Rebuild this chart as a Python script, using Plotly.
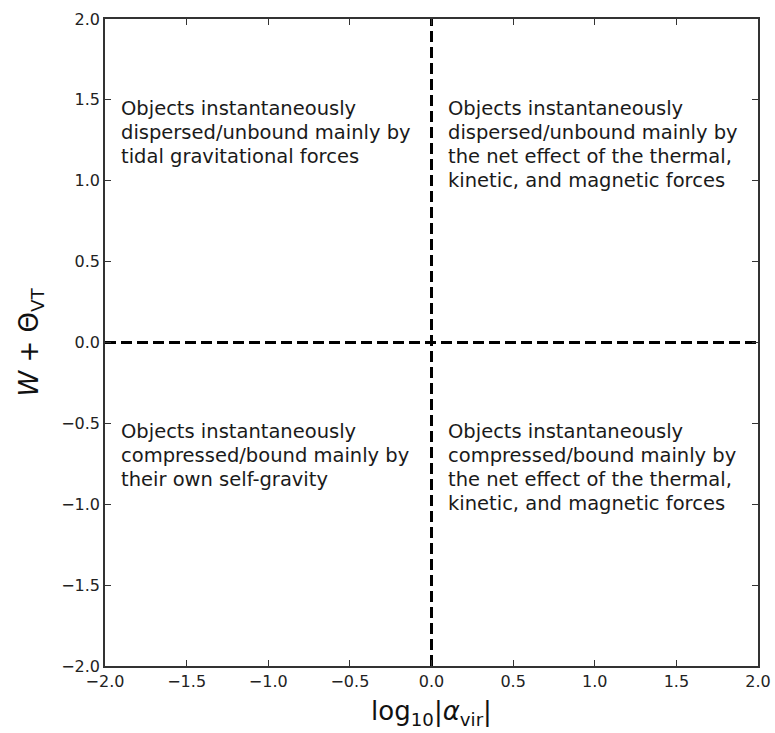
import plotly.graph_objects as go

x_range = [-2.0, 2.0]
y_range = [-2.0, 2.0]
tick_vals = [-2.0, -1.5, -1.0, -0.5, 0.0, 0.5, 1.0, 1.5, 2.0]
tick_text = ["\u22122.0", "\u22121.5", "\u22121.0", "\u22120.5", "0.0", "0.5", "1.0", "1.5", "2.0"]

vline_x = [0.0, 0.0]
vline_y = [-2.0, 2.0]
hline_x = [-2.0, 2.0]
hline_y = [0.0, 0.0]

label_x = [-1.9, 0.1, -1.9, 0.1]
label_y = [1.5, 1.5, -0.5, -0.5]
label_lines = [
    ["Objects instantaneously", "dispersed/unbound mainly by", "tidal gravitational forces"],
    ["Objects instantaneously", "dispersed/unbound mainly by", "the net effect of the thermal,",
     "kinetic, and magnetic forces"],
    ["Objects instantaneously", "compressed/bound mainly by", "their own self-gravity"],
    ["Objects instantaneously", "compressed/bound mainly by", "the net effect of the thermal,",
     "kinetic, and magnetic forces"],
]

font_family = "DejaVu Sans"
line_step = 24

fig = go.Figure()
for xs, ys in [(vline_x, vline_y), (hline_x, hline_y)]:
    fig.add_trace(go.Scatter(
        x=xs, y=ys, mode="lines",
        line=dict(color="black", width=3, dash="11px,5px"),
        showlegend=False, hoverinfo="skip", cliponaxis=False,
    ))

for lx, ly, lines in zip(label_x, label_y, label_lines):
    for i, line in enumerate(lines):
        fig.add_annotation(
            x=lx, y=ly, text=line, showarrow=False,
            xanchor="left", yanchor="top", align="left",
            xshift=-2, yshift=5 - line_step * i,
            font=dict(family=font_family, size=19.5, color="#1a1a1a"),
        )

axis_common = dict(
    tickmode="array", tickvals=tick_vals, ticktext=tick_text,
    ticks="inside", ticklen=6, tickwidth=1.2, tickcolor="#333",
    showline=True, linecolor="#333", linewidth=1.5, mirror="ticks",
    showgrid=False, zeroline=False, automargin=False,
    tickfont=dict(family=font_family, size=16, color="#222"),
)

fig.update_xaxes(range=x_range, **axis_common,
                 title=dict(text="log<sub>10</sub>|<i>\u03b1</i><sub>vir</sub>|",
                            font=dict(family=font_family, size=26, color="#111"),
                            standoff=12))
fig.update_yaxes(range=y_range, **axis_common,
                 title=dict(text="<i>W</i> + \u0398<sub>VT</sub>",
                            font=dict(family=font_family, size=26, color="#111"),
                            standoff=15))

fig.update_layout(
    width=775, height=733,
    margin=dict(l=105, r=17, t=19, b=67),
    paper_bgcolor="white", plot_bgcolor="white",
    showlegend=False,
)

# remove the page's default body margin so the figure fills the window exactly
fig.write_html("out.html",
               config={"displayModeBar": False},
               post_script="document.body.style.margin='0px';document.body.style.overflow='hidden';")
